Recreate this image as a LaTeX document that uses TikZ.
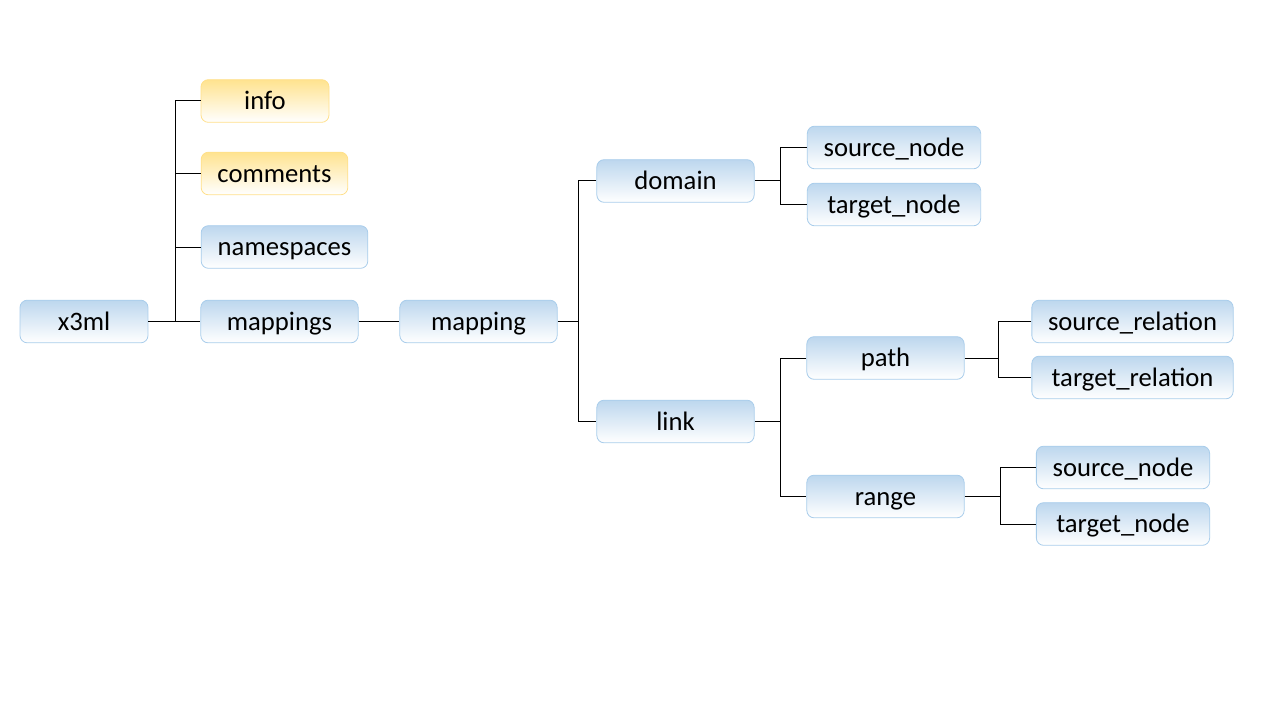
\documentclass[tikz,border=0pt]{standalone}
\usepackage{fontspec}
\setmainfont{Carlito}
\definecolor{bluetop}{HTML}{BDD7EE}
\definecolor{blueedge}{HTML}{A9CDEB}
\definecolor{yeltop}{HTML}{FFE38F}
\definecolor{yeledge}{HTML}{FFE08A}
\begin{document}
\begin{tikzpicture}[x=0.75pt,y=-0.75pt,
  bbox/.style={rounded corners=5.5pt, draw=blueedge, line width=0.6pt, top color=bluetop, bottom color=white, shading angle=0, minimum height=32pt, inner sep=0pt, text height=16pt, text depth=3.2pt, font=\fontsize{20}{22}\selectfont, text=black},
  ybox/.style={bbox, draw=yeledge, top color=yeltop},
  conn/.style={draw=black, line width=0.75pt}]
\useasboundingbox (0,0) rectangle (1280,720);
\node[bbox, minimum width=96pt] (x3ml) at (84,321.5) {x3ml};
\node[ybox, minimum width=96pt] (info) at (265,101) {info};
\node[ybox, minimum width=110pt] (comments) at (274.5,173.5) {comments};
\node[bbox, minimum width=125pt] (namespaces) at (284.5,247) {namespaces};
\node[bbox, minimum width=118pt] (mappings) at (279.5,321.5) {mappings};
\node[bbox, minimum width=118pt] (mapping) at (478.5,321.5) {mapping};
\node[bbox, minimum width=118pt] (domain) at (675.5,181) {domain};
\node[bbox, minimum width=118pt] (link) at (675.5,421.5) {link};
\node[bbox, minimum width=130pt] (sn1) at (894,147.5) {source\_node};
\node[bbox, minimum width=130pt] (tn1) at (894,204.5) {target\_node};
\node[bbox, minimum width=118pt] (path) at (885.5,358) {path};
\node[bbox, minimum width=118pt] (range) at (885.5,496.5) {range};
\node[bbox, minimum width=151pt] (sr) at (1132.5,321.5) {source\_relation};
\node[bbox, minimum width=151pt] (tr) at (1132.5,377.5) {target\_relation};
\node[bbox, minimum width=130pt] (sn2) at (1123,467.5) {source\_node};
\node[bbox, minimum width=130pt] (tn2) at (1123,524) {target\_node};

\coordinate (b0) at (175,0);
\draw[conn] (x3ml.east) -- (mappings.west);
\draw[conn] (info.west) -| (b0 |- mappings.west);
\draw[conn] (comments.west) -- (b0 |- comments.west);
\draw[conn] (namespaces.west) -- (b0 |- namespaces.west);
\draw[conn] (mappings.east) -- (mapping.west);
\coordinate (b1) at (578,0);
\draw[conn] (mapping.east) -- (b1 |- mapping.east);
\draw[conn] (domain.west) -| (b1 |- domain.west) |- (link.west);
\coordinate (b2) at (780,0);
\draw[conn] (domain.east) -- (b2 |- domain.east);
\draw[conn] (sn1.west) -| (b2 |- sn1.west) |- (tn1.west);
\draw[conn] (link.east) -- (b2 |- link.east);
\draw[conn] (path.west) -| (b2 |- path.west) |- (range.west);
\coordinate (b3) at (998,0);
\draw[conn] (path.east) -- (b3 |- path.east);
\draw[conn] (sr.west) -| (b3 |- sr.west) |- (tr.west);
\coordinate (b4) at (1000,0);
\draw[conn] (range.east) -- (b4 |- range.east);
\draw[conn] (sn2.west) -| (b4 |- sn2.west) |- (tn2.west);
\end{tikzpicture}
\end{document}
